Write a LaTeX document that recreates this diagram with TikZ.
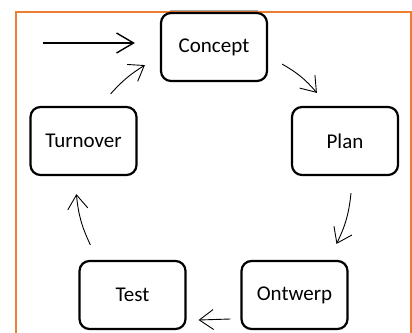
\documentclass[tikz,border=0pt]{standalone}
\usepackage{fontspec}
\setmainfont{Carlito}
\usetikzlibrary{arrows.meta,calc}
\definecolor{frameorange}{RGB}{237,125,49}
\definecolor{tabgray}{RGB}{165,165,165}
\begin{document}
\begin{tikzpicture}[x=1pt,y=-1pt,
  stage/.style={draw=black, line width=2.2pt, rounded corners=10pt,
    minimum width=106pt, minimum height=68pt, inner sep=0pt,
    font=\fontsize{21}{25}\selectfont, fill=white},
  flow/.style={line width=0.9pt, -{Straight Barb[length=14pt,width=20pt,line width=0.9pt]}},
  entry/.style={line width=1.8pt, -{Straight Barb[length=17pt,width=20pt,line width=1.4pt]}}]
\useasboundingbox (0,0) rectangle (412,332);
\fill[white] (0,0) rectangle (412,332);
% frame
\draw[tabgray, line width=1.5pt] (170,10.5) -- (258,10.5);
\draw[frameorange, line width=1.6pt] (16,340) -- (16,12) -- (411.2,12) -- (411.2,340);
% stages
\node[stage] (concept) at (214,47) {Concept};
\node[stage] (turn) at (83.5,141) {Turnover};
\node[stage] (plan) at (345,141) {Plan};
\node[stage] (test) at (132.5,295) {Test};
\node[stage] (ontwerp) at (294.5,295) {Ontwerp};
% arrow ends
\coordinate (in) at ($(concept.west)+(-117,-4)$);
\coordinate (inend) at ($(concept.west)+(-25,-4)$);
\coordinate (t1) at ($(turn.north east)+(-27,-12)$);
\coordinate (c0) at ($(concept.south west)+(-15,-17)$);
\coordinate (c1) at ($(concept.south east)+(14,-18)$);
\coordinate (p0) at ($(plan.north west)+(26,-13)$);
\coordinate (p1) at ($(plan.south)+(6,17)$);
\coordinate (o0) at ($(ontwerp.north)+(42,-16)$);
\coordinate (o1) at ($(ontwerp.west)+(-10,24)$);
\coordinate (s0) at ($(test.east)+(12,25)$);
\coordinate (s1) at ($(test.north west)+(12,-15)$);
\coordinate (u0) at ($(turn.south west)+(47,18)$);
% connectors
\draw[entry] (in) -- (inend);
\draw[flow] (t1) to[bend left=8] (c0);
\draw[flow] (c1) to[bend left=10] (p0);
\draw[flow] (p1) to[bend left=10] (o0);
\draw[flow] (o1) -- (s0);
\draw[flow] (s1) to[bend left=10] (u0);
\end{tikzpicture}
\end{document}
